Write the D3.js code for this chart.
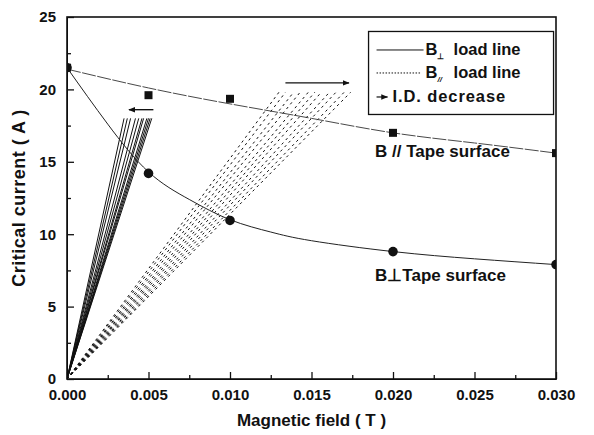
<!DOCTYPE html>
<html>
<head>
<meta charset="utf-8">
<script src="https://cdn.jsdelivr.net/npm/d3@7"></script>
<style>
  body { margin: 0; background: #fff; }
  text { font-family: "Liberation Sans", Arial, sans-serif; fill: #111; }
</style>
</head>
<body>
<div id="chart-container"></div>
<script>
// measured points (field in T, current in A)
const fieldT = [0, 0.005, 0.010, 0.020, 0.030];
const icParallel = [21.5, 19.6, 19.35, 17.0, 15.6];
const icPerp = [21.5, 14.2, 10.95, 8.8, 7.9];

// fitted curves
const fitParField = [0, 0.005, 0.010, 0.015, 0.020, 0.025, 0.030];
const fitParIc = [21.4, 20.1, 19.0, 18.0, 17.0, 16.3, 15.6];
const fitPerpField = [0, 0.0025, 0.005, 0.0075, 0.010, 0.0125, 0.015, 0.020, 0.025, 0.030];
const fitPerpIc = [21.5, 17.6, 14.3, 12.4, 11.0, 10.15, 9.55, 8.8, 8.3, 7.9];

// load lines: field at the top end of each line, and the current there
const perpLoadTop = [0.0035, 0.0037, 0.0039, 0.0042, 0.0044, 0.0046, 0.0047, 0.0049, 0.0050, 0.0051, 0.0052];
const perpLoadIc = 18.0;
const parLoadTop = [0.0130, 0.0134, 0.0139, 0.0143, 0.0148, 0.0152, 0.0156, 0.0161, 0.0165, 0.0170, 0.0174];
const parLoadIc = 19.8;

// "I.D. decrease" arrows: [from field, to field, current]
const perpArrow = [0.0053, 0.0038, 18.6];
const parArrow = [0.0134, 0.0173, 20.45];

const xTicks = [0, 0.005, 0.010, 0.015, 0.020, 0.025, 0.030];
const yTicks = [0, 5, 10, 15, 20, 25];

const margin = { top: 17, right: 38, bottom: 56, left: 67 };
const width = 594 - margin.left - margin.right;
const height = 435 - margin.top - margin.bottom;

const x = d3.scaleLinear().domain([0, 0.03]).range([0, width]);
const y = d3.scaleLinear().domain([0, 25]).range([height, 0]);

const svg = d3.select("#chart-container")
  .append("svg")
    .attr("width", 594)
    .attr("height", 435)
  .append("g")
    .attr("transform", `translate(${margin.left},${margin.top})`);

const defs = svg.append("defs");
defs.append("clipPath").attr("id", "plot-clip")
  .append("rect").attr("width", width).attr("height", height);
defs.append("marker")
  .attr("id", "head")
  .attr("viewBox", "0 0 10 10")
  .attr("refX", 9).attr("refY", 5)
  .attr("markerWidth", 7).attr("markerHeight", 7)
  .attr("markerUnits", "userSpaceOnUse")
  .attr("orient", "auto")
  .append("path").attr("d", "M0,1 L10,5 L0,9 Z").attr("fill", "#111");

// axes with inward ticks
const minorX = d3.range(0.0025, 0.03, 0.005);
const minorY = d3.range(2.5, 25, 5);

svg.append("g")
  .attr("transform", `translate(0,${height})`)
  .call(d3.axisBottom(x).tickValues(xTicks).tickSizeInner(-7).tickSizeOuter(0)
    .tickPadding(10).tickFormat(d3.format(".3f")));
svg.append("g")
  .attr("transform", `translate(0,${height})`)
  .call(d3.axisBottom(x).tickValues(minorX).tickSize(-4).tickFormat(""))
  .call(g => g.select(".domain").remove());

svg.append("g")
  .call(d3.axisLeft(y).tickValues(yTicks).tickSizeInner(-7).tickSizeOuter(0)
    .tickPadding(11).tickFormat(d3.format("d")));
svg.append("g")
  .call(d3.axisLeft(y).tickValues(minorY).tickSize(-4).tickFormat(""))
  .call(g => g.select(".domain").remove());

svg.selectAll(".tick line").attr("stroke", "#111").attr("stroke-width", 1.3);
svg.selectAll(".tick text")
  .style("font-size", "15px")
  .style("font-weight", "bold")
  .attr("fill", "#111");

// frame
svg.append("rect")
  .attr("width", width)
  .attr("height", height)
  .attr("fill", "none")
  .attr("stroke", "#111")
  .attr("stroke-width", 1.6);

const plot = svg.append("g").attr("clip-path", "url(#plot-clip)");

// load lines from the origin
plot.selectAll(".perp-load")
  .data(perpLoadTop)
  .join("line")
    .attr("x1", x(0)).attr("y1", y(0))
    .attr("x2", d => x(d)).attr("y2", y(perpLoadIc))
    .attr("stroke", "#111")
    .attr("stroke-width", 1);

plot.selectAll(".par-load")
  .data(parLoadTop)
  .join("line")
    .attr("x1", x(0)).attr("y1", y(0))
    .attr("x2", d => x(d)).attr("y2", y(parLoadIc))
    .attr("stroke", "#111")
    .attr("stroke-width", 1)
    .attr("stroke-dasharray", "2.5,3.5");

// fitted curves
const line = d3.line().curve(d3.curveNatural);
plot.append("path")
  .attr("d", line(fitParField.map((f, i) => [x(f), y(fitParIc[i])])))
  .attr("fill", "none")
  .attr("stroke", "#333")
  .attr("stroke-width", 0.9)
  .attr("stroke-dasharray", "14,1.5");
plot.append("path")
  .attr("d", line(fitPerpField.map((f, i) => [x(f), y(fitPerpIc[i])])))
  .attr("fill", "none")
  .attr("stroke", "#222")
  .attr("stroke-width", 1);

// markers
plot.selectAll(".sq")
  .data(fieldT)
  .join("rect")
    .attr("x", d => x(d) - 4)
    .attr("y", (d, i) => y(icParallel[i]) - 4)
    .attr("width", 8).attr("height", 8)
    .attr("fill", "#111");
plot.selectAll(".dot")
  .data(fieldT)
  .join("circle")
    .attr("cx", d => x(d))
    .attr("cy", (d, i) => y(icPerp[i]))
    .attr("r", 4.8)
    .attr("fill", "#111");

// I.D. decrease arrows
[perpArrow, parArrow].forEach(a => {
  svg.append("line")
    .attr("x1", x(a[0])).attr("y1", y(a[2]))
    .attr("x2", x(a[1])).attr("y2", y(a[2]))
    .attr("stroke", "#111")
    .attr("stroke-width", 1.4)
    .attr("marker-end", "url(#head)");
});

// curve labels
svg.append("text")
  .attr("x", x(0.0189)).attr("y", y(15.3))
  .style("font-size", "17px").style("font-weight", "bold")
  .text("B // Tape surface");

svg.append("text")
  .attr("x", x(0.0189)).attr("y", y(6.8))
  .style("font-size", "17px").style("font-weight", "bold")
  .text("B\u22a5Tape surface");

// legend
const lg = svg.append("g").attr("transform", `translate(${x(0.0185)},${y(24.0)})`);
lg.append("rect")
  .attr("width", 185).attr("height", 83)
  .attr("fill", "#fff")
  .attr("stroke", "#111")
  .attr("stroke-width", 1.3);

lg.append("line").attr("x1", 8).attr("x2", 55).attr("y1", 18.5).attr("y2", 18.5)
  .attr("stroke", "#111").attr("stroke-width", 1);
lg.append("line").attr("x1", 8).attr("x2", 52).attr("y1", 41.5).attr("y2", 41.5)
  .attr("stroke", "#111").attr("stroke-width", 1).attr("stroke-dasharray", "1.5,1.5");
lg.append("line").attr("x1", 8).attr("x2", 19).attr("y1", 65.5).attr("y2", 65.5)
  .attr("stroke", "#111").attr("stroke-width", 1.2).attr("marker-end", "url(#head)");

const legRows = [
  { y: 23.5, sub: "\u22a5", text: "load line" },
  { y: 46.5, sub: "//", text: "load line" }
];
legRows.forEach(r => {
  const t = lg.append("text").attr("x", 57).attr("y", r.y)
    .style("font-size", "16.5px").style("font-weight", "bold");
  t.append("tspan").text("B");
  t.append("tspan").attr("dy", 4).style("font-size", "8px")
    .style("font-style", r.sub === "//" ? "italic" : "normal").text(r.sub);
  t.append("tspan").attr("dy", -4).attr("x", 85).text(r.text);
});
lg.append("text").attr("x", 24).attr("y", 70.5)
  .style("font-size", "16.5px").style("font-weight", "bold")
  .style("letter-spacing", "0.9px")
  .text("I.D. decrease");

// axis titles
svg.append("text")
  .attr("x", width / 2)
  .attr("y", height + 47)
  .attr("text-anchor", "middle")
  .style("font-size", "17px").style("font-weight", "bold")
  .text("Magnetic field ( T )");

svg.append("text")
  .attr("transform", "rotate(-90)")
  .attr("x", -height / 2)
  .attr("y", -42)
  .attr("text-anchor", "middle")
  .style("font-size", "18px").style("font-weight", "bold")
  .style("letter-spacing", "0.5px")
  .text("Critical current ( A )");
</script>
</body>
</html>
